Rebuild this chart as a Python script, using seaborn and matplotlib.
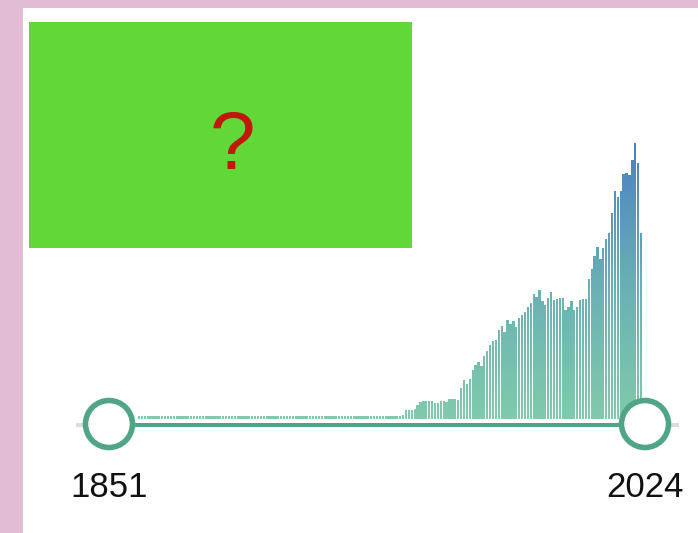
import matplotlib
matplotlib.use("Agg")
import matplotlib.pyplot as plt
import numpy as np
import pandas as pd
import seaborn as sns
from matplotlib.colors import LinearSegmentedColormap
from matplotlib.patches import Circle, PathPatch, Rectangle
from matplotlib.path import Path

# one bar per year, heights (arbitrary units)
YEARS = list(range(1851, 2025))
COUNTS = [
    4, 4, 4, 4, 4, 4, 4, 4, 4, 4, 4, 4, 4, 4, 4, 4, 4, 4, 4, 4,
    4, 4, 4, 4, 4, 4, 4, 4, 4, 4, 4, 4, 4, 4, 4, 4, 4, 4, 4, 4,
    4, 4, 4, 4, 4, 4, 4, 4, 4, 4, 4, 4, 4, 4, 4, 4, 4, 4, 4, 4,
    4, 4, 4, 4, 4, 4, 4, 4, 4, 4, 4, 4, 4, 4, 4, 4, 4, 4, 4, 4,
    4, 4, 4, 4, 4, 4, 4, 4, 4, 4,
    4, 5, 10, 10, 10, 11, 15, 18, 19, 19, 19, 19, 17, 17, 19, 19, 18, 21, 21, 21,
    20, 32, 40, 36, 41, 50, 55, 58, 54, 64, 69, 75, 79, 80, 90, 94, 88, 100,
    96, 99, 93, 102, 105, 108, 113, 117, 126, 123, 130, 119, 115, 122, 128, 120,
    121, 122, 122, 110, 113, 119, 110, 113, 120, 121, 121,
    141, 151, 164, 173, 161, 172, 181, 187, 207, 229, 223, 229, 246, 247, 245,
    260, 277, 257, 187,
]
START_LABEL = "1851"
END_LABEL = "2024"

PINK = "#e2bcd4"
GREEN = "#50a587"
BOX_GREEN = "#62d838"
QMARK_RED = "#c0180c"
BAR_CMAP = LinearSegmentedColormap.from_list(
    "bars", ["#80cbab", "#68afb6", "#4a80c2"]
)

W, H = 698, 533

sns.set_style("white")
plt.rcParams["font.family"] = ["Liberation Sans", "DejaVu Sans"]


def fig_box(x0, y0, x1, y1):
    return [x0 / W, 1 - y1 / H, (x1 - x0) / W, (y1 - y0) / H]


fig = plt.figure(figsize=(W / 100, H / 100), dpi=100, facecolor=PINK)

# white card on the pink background
back = fig.add_axes([0, 0, 1, 1], zorder=0)
back.set_xlim(0, W)
back.set_ylim(H, 0)
back.axis("off")
back.add_patch(Rectangle((23, 8), W - 23, H - 8, facecolor="white", edgecolor="none"))

# histogram bars
bar0_px, pitch = 139, 2.902
xlim = ((76 - bar0_px) / pitch, (682 - bar0_px) / pitch)
ylim = (0, 289.5)
ax = fig.add_axes(fig_box(76, 130, 682, 419.5), zorder=1)
ax.patch.set_alpha(0)
df = pd.DataFrame({"year": YEARS, "count": COUNTS})
sns.barplot(data=df, x="year", y="count", color="#6db5b6", width=0.8,
            saturation=1, linewidth=0, ax=ax)

# vertical gradient fill, clipped to the bar shapes
paths = [p.get_path().transformed(p.get_patch_transform()) for p in ax.patches]
for p in ax.patches:
    p.set_facecolor("none")
clip = PathPatch(Path.make_compound_path(*paths), transform=ax.transData,
                 facecolor="none", edgecolor="none")
ax.add_patch(clip)
grad = np.linspace(0, 1, 256).reshape(-1, 1)
im = ax.imshow(grad, extent=[xlim[0], xlim[1], 0, max(COUNTS)], origin="lower",
               aspect="auto", cmap=BAR_CMAP, zorder=3)
im.set_clip_path(clip)
ax.set_xlim(*xlim)
ax.set_ylim(*ylim)
ax.axis("off")

# slider, labels and placeholder box
front = fig.add_axes([0, 0, 1, 1], zorder=2)
front.set_xlim(0, W)
front.set_ylim(H, 0)
front.axis("off")
front.patch.set_alpha(0)

left_x, right_x, track_y = 109, 645, 425
front.plot([76, 679], [track_y, track_y], color="#dcdcdc", lw=2.9, solid_capstyle="butt")
front.plot([left_x, right_x], [track_y, track_y], color=GREEN, lw=2.9, solid_capstyle="butt")
for cx in (left_x, right_x):
    front.add_patch(Circle((cx, track_y - 1), 23.5, facecolor="white", edgecolor=GREEN,
                           lw=4.0, zorder=4))

front.text(left_x, 497, START_LABEL, ha="center", va="baseline", fontsize=25, color="#111111")
front.text(right_x, 497, END_LABEL, ha="center", va="baseline", fontsize=25, color="#111111")

front.add_patch(Rectangle((29, 22), 383, 226, facecolor=BOX_GREEN, edgecolor="none"))
front.text(232, 169, "?", ha="center", va="baseline", fontsize=59, color=QMARK_RED)

fig.savefig("out.png", dpi=100, facecolor=PINK)
